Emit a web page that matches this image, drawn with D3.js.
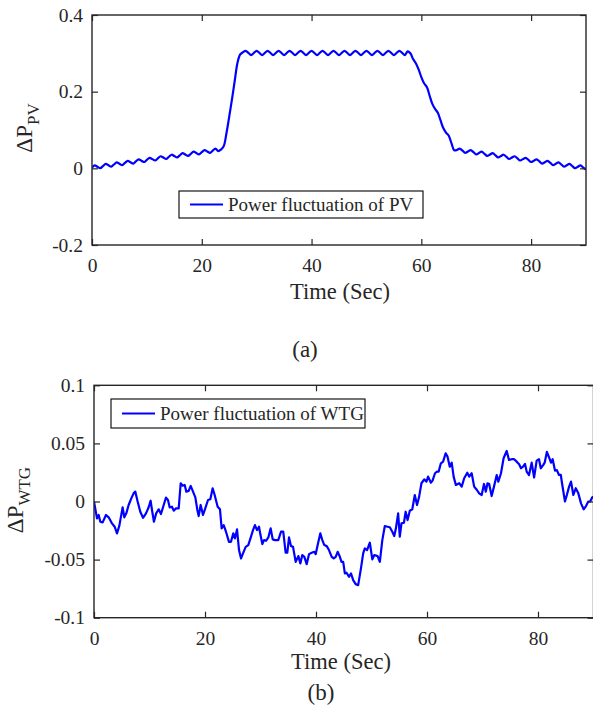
<!DOCTYPE html>
<html>
<head>
<meta charset="utf-8">
<script src="https://cdn.jsdelivr.net/npm/d3@7"></script>
<style>
  html, body { margin: 0; padding: 0; background: #fff; }
  svg { display: block; }
  text { font-family: "Liberation Serif", "Times New Roman", serif; fill: #262626; }
</style>
</head>
<body>
<svg id="chart" width="593" height="705"></svg>
<script>
// ---------------- DATA ----------------
// (a) PV power fluctuation, sampled every 0.5 s from 0 to 90 s
const pvStep = 0.5;
const pvValues = [
  0.002,0.0075,0.004,0.0005,0.006,0.0115,0.008,0.0045,0.010,0.0155,
  0.012,0.0085,0.014,0.0195,0.016,0.0125,0.018,0.0235,0.020,0.0165,
  0.022,0.0275,0.024,0.0205,0.026,0.0315,0.028,0.0245,0.030,0.0355,
  0.032,0.0285,0.034,0.0395,0.036,0.0325,0.038,0.0435,0.040,0.0365,
  0.042,0.0475,0.044,0.0405,0.046,0.0515,0.045,0.049,
  0.058,0.092,0.135,0.180,0.228,0.275,0.297,0.303,
  0.3065,0.301,0.2955,0.301, 0.3065,0.301,0.2955,0.301, 0.3065,0.301,0.2955,0.301,
  0.3065,0.301,0.2955,0.301, 0.3065,0.301,0.2955,0.301, 0.3065,0.301,0.2955,0.301,
  0.3065,0.301,0.2955,0.301, 0.3065,0.301,0.2955,0.301, 0.3065,0.301,0.2955,0.301,
  0.3065,0.301,0.2955,0.301, 0.3065,0.301,0.2955,0.301, 0.3065,0.301,0.2955,0.301,
  0.3065,0.301,0.2955,0.301, 0.3065,0.301,0.2955,0.301, 0.3065,0.301,0.2955,
  0.305,0.300,0.285,0.274,0.258,0.238,0.222,0.212,0.190,0.168,
  0.155,0.145,0.125,0.105,0.093,0.085,0.065,0.047,
  0.048,0.0515,0.046,0.0405,0.044,0.0475,0.042,0.0365,0.040,0.0435,
  0.038,0.0325,0.036,0.0395,0.034,0.0285,0.032,0.0355,0.030,0.0245,
  0.028,0.0315,0.026,0.0205,0.024,0.0275,0.022,0.0165,0.020,0.0235,
  0.018,0.0125,0.016,0.0195,0.014,0.0085,0.012,0.0155,0.010,0.0045,
  0.008,0.0115,0.006,0.0005,0.004,0.0075,0.002,-0.0035
];

// (b) WTG power fluctuation
const wtgTime = [
  0,0.54,0.84,1.14,1.56,2.16,2.64,3.24,3.72,4.14,4.56,5.16,5.46,5.82,6.24,6.72,7.14,7.44,7.86,8.34,
  8.83,9.37,9.85,10.2,10.45,10.8,11.2,11.65,12.07,12.56,12.97,13.33,13.63,14.05,14.36,14.77,15.26,15.62,15.98,16.34,
  16.64,17.06,17.42,17.84,18.26,18.62,18.86,19.22,19.64,20.05,20.54,20.96,21.38,21.74,22.28,22.7,23.0,23.37,23.78,24.32,
  24.68,25.1,25.4,25.77,26.13,26.49,26.85,27.33,27.8,28.29,28.65,29.0,29.37,29.73,30.0,30.33,30.63,30.99,31.41,31.83,
  32.2,32.6,33.2,33.7,34.1,34.53,34.83,35.14,35.5,35.86,36.34,36.82,37.18,37.53,37.9,38.32,38.74,39.22,39.7,39.94,
  40.3,40.78,41.14,41.5,41.93,42.34,42.83,43.19,43.55,43.9,44.3,44.6,44.9,45.2,45.5,45.95,46.3,46.7,47.15,47.6,
  48.1,48.5,48.8,49.2,49.7,50.15,50.5,51.1,51.5,51.95,52.4,52.9,53.3,53.75,54.1,54.4,54.8,55.1,55.4,55.85,
  56.15,56.5,56.9,57.35,57.8,58.2,58.56,59.0,59.5,59.9,60.2,60.7,61.0,61.44,61.8,62.1,62.5,62.9,63.36,63.7,
  64.1,64.45,64.8,65.2,65.8,66.25,66.7,67.26,67.6,68.05,68.5,69.0,69.4,69.85,70.27,70.6,70.9,71.2,71.65,72.07,
  72.56,72.85,73.33,73.8,74.36,74.77,75.26,75.7,76.16,76.6,76.94,77.3,77.66,77.96,78.38,78.86,79.3,79.76,80.18,80.5,
  80.96,81.2,81.6,81.98,82.34,82.64,83.06,83.4,83.78,84.1,84.38,84.86,85.2,85.6,85.95,86.37,86.8,87.27,87.75,88.23,
  88.65,89.06,89.4,89.78,90
];
const wtgValues = [
  0.0,-0.0145,-0.0116,-0.0174,-0.018,-0.0116,-0.0136,-0.0188,-0.0217,-0.0274,-0.021,-0.005,-0.0136,-0.0102,-0.003,0.0027,0.007,0.0085,0.0,-0.0088,
  -0.014,-0.0102,-0.005,0.0007,-0.0073,-0.0174,-0.0102,-0.0067,-0.0108,-0.003,0.0033,0.0013,-0.005,-0.0045,-0.0079,-0.0059,-0.0059,0.0157,0.0136,0.0142,
  0.0085,0.0091,0.0134,0.0085,0.0036,-0.0073,-0.0125,-0.003,-0.0116,-0.0059,0.0013,0.0019,0.0114,0.0056,-0.0045,-0.0067,-0.0231,-0.0203,-0.026,-0.0347,
  -0.0347,-0.0274,-0.0317,-0.024,-0.0418,-0.049,-0.0447,-0.039,-0.0375,-0.0303,-0.0246,-0.0203,-0.0246,-0.0217,-0.0289,-0.0366,-0.0332,-0.0338,-0.0309,-0.0231,
  -0.0326,-0.0332,-0.0332,-0.026,-0.026,-0.0441,-0.0441,-0.0309,-0.0384,-0.039,-0.0519,-0.047,-0.0533,-0.0461,-0.0476,-0.0539,-0.0453,-0.0441,-0.0433,-0.0453,
  -0.0375,-0.0274,-0.0332,-0.0375,-0.0384,-0.0418,-0.0476,-0.049,-0.0476,-0.0433,-0.0476,-0.0519,-0.052,-0.0619,-0.0613,-0.0648,-0.0619,-0.0677,-0.0711,-0.072,
  -0.0576,-0.0447,-0.0404,-0.0418,-0.0355,-0.0498,-0.0461,-0.047,-0.0519,-0.0332,-0.0211,-0.0217,-0.0222,-0.026,-0.0297,-0.0231,-0.0102,-0.0303,-0.0188,-0.0183,
  -0.0088,-0.016,-0.0079,-0.0067,0.0056,-0.003,0.0036,0.0157,0.0191,0.0171,0.0214,0.0162,0.018,0.0243,0.0257,0.0257,0.0329,0.0343,0.0415,0.0386,
  0.03,0.0334,0.0214,0.0142,0.0157,0.0128,0.02,0.0248,0.0214,0.0243,0.0128,0.0099,0.007,0.0056,0.0151,0.0085,0.0157,0.015,0.0047,0.0128,
  0.0228,0.0171,0.0243,0.0372,0.0435,0.0358,0.0364,0.0364,0.0343,0.032,0.0286,0.030,0.0323,0.0257,0.0228,0.0334,0.0207,0.0352,0.0364,0.0286,
  0.0315,0.0334,0.0427,0.0381,0.0334,0.0364,0.0266,0.027,0.0228,0.023,0.0142,0.0,0.0056,0.0128,0.0171,0.0056,0.0114,0.007,-0.0016,-0.0067,
  -0.0039,0.0,0.0,0.0036,0.004
];

// Ticks and labels
const xTicks = [0, 20, 40, 60, 80];
const pvYTicks = [-0.2, 0, 0.2, 0.4];
const wtgYTicks = [-0.1, -0.05, 0, 0.05, 0.1];
const xTitle = "Time (Sec)";
const pvLegend = "Power fluctuation of PV";
const wtgLegend = "Power fluctuation of WTG";

// ---------------- DRAW ----------------
const svg = d3.select("#chart");
const axisColor = "#262626";

function panel(cfg) {
  const x = d3.scaleLinear().domain([0, 90]).range([cfg.x0, cfg.x1]);
  const y = d3.scaleLinear().domain(cfg.yDomain).range([cfg.y1, cfg.y0]);
  const g = svg.append("g");

  const clipId = "clip" + cfg.id;
  svg.append("defs").append("clipPath").attr("id", clipId)
    .append("rect").attr("x", cfg.x0).attr("y", cfg.y0)
    .attr("width", cfg.x1 - cfg.x0).attr("height", cfg.y1 - cfg.y0);

  const line = d3.line().x(d => x(d[0])).y(d => y(d[1])).curve(cfg.curve);
  g.append("path").datum(cfg.data)
    .attr("clip-path", `url(#${clipId})`)
    .attr("fill", "none").attr("stroke", "#0000ff")
    .attr("stroke-width", 2.2).attr("stroke-linejoin", "round")
    .attr("d", line);

  const fmt = d => (d === 0 ? "0" : String(d));
  const styleAxis = (sel) => {
    sel.select(".domain").remove();
    sel.selectAll(".tick line").attr("stroke", axisColor).attr("stroke-width", 1.2);
    sel.selectAll("text").style("font-size", "19.5px")
      .style("font-family", '"Liberation Serif", serif').attr("fill", axisColor);
  };

  const gb = g.append("g").attr("transform", `translate(0,${cfg.y1})`)
    .call(d3.axisBottom(x).tickValues(xTicks).tickFormat(fmt).tickSizeInner(-6).tickSizeOuter(0).tickPadding(13));
  styleAxis(gb);
  const gt = g.append("g").attr("transform", `translate(0,${cfg.y0})`)
    .call(d3.axisTop(x).tickValues(xTicks).tickFormat("").tickSizeInner(-6).tickSizeOuter(0));
  styleAxis(gt);
  const gl = g.append("g").attr("transform", `translate(${cfg.x0},0)`)
    .call(d3.axisLeft(y).tickValues(cfg.yTicks).tickFormat(fmt).tickSizeInner(-6).tickSizeOuter(0).tickPadding(9));
  styleAxis(gl);
  const gr = g.append("g").attr("transform", `translate(${cfg.x1},0)`)
    .call(d3.axisRight(y).tickValues(cfg.yTicks).tickFormat("").tickSizeInner(-6).tickSizeOuter(0));
  styleAxis(gr);

  g.append("rect").attr("x", cfg.x0).attr("y", cfg.y0)
    .attr("width", cfg.x1 - cfg.x0).attr("height", cfg.y1 - cfg.y0)
    .attr("fill", "none").attr("stroke", axisColor).attr("stroke-width", 1.4);

  g.append("text").attr("x", (cfg.x0 + Math.min(cfg.x1, 586)) / 2 + 1).attr("y", cfg.xTitleY)
    .attr("text-anchor", "middle").style("font-size", "22.5px").text(xTitle);

  const yt = g.append("text")
    .attr("transform", `translate(${cfg.yTitleX},${cfg.yTitleY}) rotate(-90)`)
    .attr("text-anchor", "middle").style("font-size", "23px");
  yt.append("tspan").text("ΔP");
  yt.append("tspan").attr("dy", 7).style("font-size", "17px").text(cfg.sub);

  const L = cfg.legend;
  g.append("rect").attr("x", L.x).attr("y", L.y).attr("width", L.w).attr("height", L.h)
    .attr("fill", "#fff").attr("stroke", "#000").attr("stroke-width", 1.1);
  g.append("line").attr("x1", L.x + 11).attr("x2", L.x + 44)
    .attr("y1", L.y + L.h / 2).attr("y2", L.y + L.h / 2)
    .attr("stroke", "#0000ff").attr("stroke-width", 2.2);
  g.append("text").attr("x", L.x + 49).attr("y", L.y + L.h / 2 + 6.5)
    .style("font-size", "19px").attr("fill", "#000").text(L.text);

  g.append("text").attr("x", cfg.capX).attr("y", cfg.capY)
    .attr("text-anchor", "middle").style("font-size", "23px").attr("fill", "#000").text(cfg.cap);
}

panel({
  id: "a", x0: 92, x1: 586, y0: 15, y1: 245,
  yDomain: [-0.2, 0.4], yTicks: pvYTicks,
  data: pvValues.map((v, i) => [i * pvStep, v]),
  curve: d3.curveCatmullRom.alpha(0.5),
  xTitleY: 299, yTitleX: 32, yTitleY: 128, sub: "PV",
  legend: { x: 179, y: 191, w: 244, h: 27, text: pvLegend },
  cap: "(a)", capX: 305, capY: 357
});

panel({
  id: "b", x0: 94, x1: 593.5, y0: 385.3, y1: 617.7,
  yDomain: [-0.1, 0.1], yTicks: wtgYTicks,
  data: wtgTime.map((t, i) => [t, wtgValues[i]]),
  curve: d3.curveLinear,
  xTitleY: 669, yTitleX: 23, yTitleY: 500, sub: "WTG",
  legend: { x: 111, y: 399, w: 254, h: 29, text: wtgLegend },
  cap: "(b)", capX: 321, capY: 700
});
</script>
</body>
</html>
